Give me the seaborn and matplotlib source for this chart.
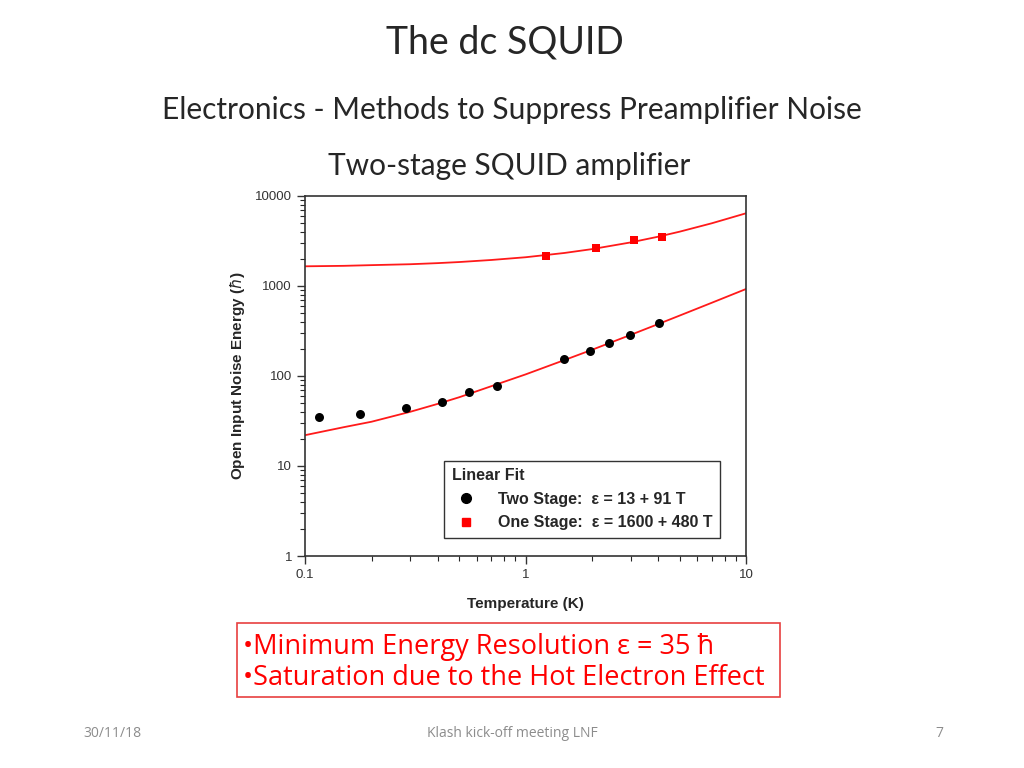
import numpy as np
import pandas as pd
import matplotlib
matplotlib.use("Agg")
import matplotlib.pyplot as plt
from matplotlib.lines import Line2D
from matplotlib.patches import Rectangle
from matplotlib.ticker import LogLocator, NullFormatter, FixedLocator, FixedFormatter
import seaborn as sns

# measured points
two_stage_T = [0.115, 0.178, 0.287, 0.418, 0.554, 0.743, 1.50, 1.96, 2.39, 2.98, 4.03]
two_stage_E = [35, 37.5, 44, 52, 66, 78, 153, 188, 232, 283, 385]
one_stage_T = [1.24, 2.09, 3.10, 4.16]
one_stage_E = [2150, 2640, 3230, 3500]

# linear fit curves as drawn on the plot
fit_T = [0.1, 0.15, 0.2, 0.3, 0.4, 0.5, 0.7, 1, 1.5, 2, 3, 4, 5, 7, 10]
fit_two_E = [22, 27, 31, 40, 49, 58, 77, 104, 150, 195, 286, 377, 468, 650, 923]
fit_one_E = [1650, 1670, 1700, 1740, 1790, 1840, 1940, 2080, 2320, 2560, 3040, 3520, 4000, 4960, 6400]

legend_labels = ["Two Stage:  \u03b5 = 13 + 91 T", "One Stage:  \u03b5 = 1600 + 480 T"]
x_ticks = [0.1, 1, 10]
x_ticklabels = ["0.1", "1", "10"]
y_ticks = [1, 10, 100, 1000, 10000]
y_ticklabels = ["1", "10", "100", "1000", "10000"]

sns.set_style("ticks")
plt.rcParams["font.family"] = ["Liberation Sans", "DejaVu Sans"]

fig = plt.figure(figsize=(10.24, 7.68), dpi=100)
ax = fig.add_axes([0.298, 0.276, 0.4305, 0.469])

fit_df = pd.DataFrame({"T": fit_T + fit_T,
                       "E": fit_two_E + fit_one_E,
                       "fit": ["two"] * len(fit_T) + ["one"] * len(fit_T)})
sns.lineplot(data=fit_df, x="T", y="E", units="fit", estimator=None,
             color="#ff1a1a", lw=1.3, ax=ax, sort=True)

sns.scatterplot(x=two_stage_T, y=two_stage_E, color="black", marker="o",
                s=42, edgecolor="black", linewidth=0, ax=ax, zorder=3)
sns.scatterplot(x=one_stage_T, y=one_stage_E, color="#ff0000", marker="s",
                s=34, edgecolor="#ff0000", linewidth=0, ax=ax, zorder=3)

ax.set_xscale("log")
ax.set_yscale("log")
ax.set_xlim(0.1, 10)
ax.set_ylim(1, 10000)

ax.xaxis.set_major_locator(FixedLocator(x_ticks))
ax.xaxis.set_major_formatter(FixedFormatter(x_ticklabels))
ax.yaxis.set_major_locator(FixedLocator(y_ticks))
ax.yaxis.set_major_formatter(FixedFormatter(y_ticklabels))
ax.xaxis.set_minor_locator(LogLocator(base=10, subs=np.arange(2, 10), numticks=20))
ax.yaxis.set_minor_locator(LogLocator(base=10, subs=np.arange(2, 10), numticks=20))
ax.xaxis.set_minor_formatter(NullFormatter())
ax.yaxis.set_minor_formatter(NullFormatter())
ax.tick_params(which="major", direction="out", length=6, width=1, labelsize=9.5, colors="#333333")
ax.tick_params(which="minor", direction="out", length=3.5, width=0.8)
for sp in ax.spines.values():
    sp.set_linewidth(1.2)
    sp.set_color("#333333")

ax.set_xlabel("Temperature (K)", fontsize=11, fontweight="bold", labelpad=11)
ax.set_ylabel("Open Input Noise Energy ($\\hbar$)", fontsize=11, fontweight="bold", labelpad=6)

handles = [Line2D([], [], ls="", marker="o", color="black", markersize=7),
           Line2D([], [], ls="", marker="s", color="#ff0000", markersize=6)]
leg = ax.legend(handles, legend_labels, title="Linear Fit", loc="lower right",
                bbox_to_anchor=(0.94, 0.051), frameon=True, fancybox=False,
                edgecolor="#333333", framealpha=1, alignment="left",
                prop={"weight": "bold", "size": 11.5}, handletextpad=1.1,
                borderpad=0.45, labelspacing=0.55, handlelength=1.8,
                borderaxespad=0)
leg.get_title().set_fontweight("bold")
leg.get_title().set_fontsize(11.5)
leg.get_frame().set_linewidth(1.0)

# slide text
fig.text(0.493, 0.945, "The dc SQUID", ha="center", va="center", fontsize=27,
         family="Lato")
fig.text(0.5, 0.857, "Electronics - Methods to Suppress Preamplifier Noise",
         ha="center", va="center", fontsize=21.5, family="Lato")
fig.text(0.497, 0.784, "Two-stage SQUID amplifier", ha="center", va="center",
         fontsize=21.5, family="Lato")

fig.patches.append(Rectangle((237 / 1024, 1 - 697 / 768), 543 / 1024, 74 / 768,
                             transform=fig.transFigure, fill=False,
                             edgecolor="#e84040", lw=1.2))
fig.text(0.237, 0.157, "\u2022Minimum Energy Resolution \u03b5 = 35 \u0127",
         color="#ff0000", fontsize=19.5, family="Open Sans", va="center")
fig.text(0.237, 0.117, "\u2022Saturation due to the Hot Electron Effect",
         color="#ff0000", fontsize=19.5, family="Open Sans", va="center")

fig.text(0.11, 0.045, "30/11/18", color="#8c8c8c", fontsize=10, ha="center", va="center",
         family="Open Sans")
fig.text(0.5, 0.045, "Klash kick-off meeting LNF", color="#8c8c8c", fontsize=10,
         ha="center", va="center", family="Open Sans")
fig.text(0.917, 0.045, "7", color="#8c8c8c", fontsize=10, ha="center", va="center",
         family="Open Sans")

fig.savefig("out.png", dpi=100)
